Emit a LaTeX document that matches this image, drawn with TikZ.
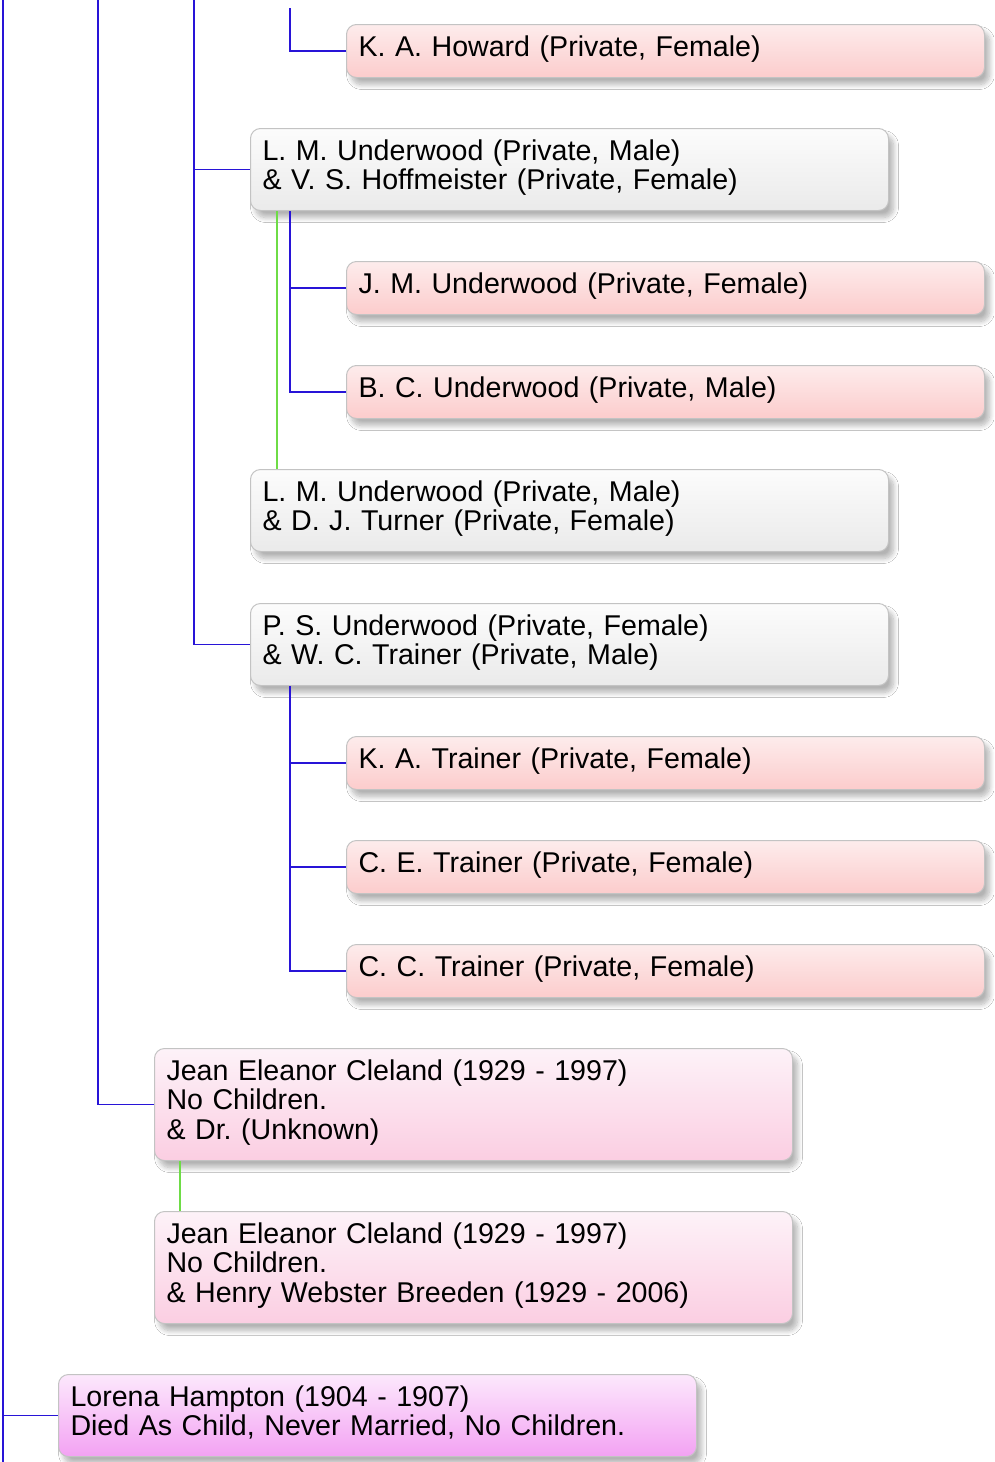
\documentclass[tikz,border=0pt]{standalone}
\usepackage{fontspec}
\setmainfont{Liberation Sans}
\usetikzlibrary{shadows.blur}
\definecolor{linkblue}{RGB}{40,20,215}
\definecolor{linkgreen}{RGB}{110,220,70}
\definecolor{boxborder}{RGB}{195,195,195}
\definecolor{pinktop}{RGB}{253,236,236}
\definecolor{pinkbot}{RGB}{252,204,204}
\definecolor{graytop}{RGB}{252,252,252}
\definecolor{graybot}{RGB}{234,234,234}
\definecolor{rosetop}{RGB}{253,242,248}
\definecolor{rosebot}{RGB}{251,206,226}
\definecolor{magtop}{RGB}{252,232,252}
\definecolor{magbot}{RGB}{243,162,243}
\tikzset{
  x=1pt, y=-1pt,
  person/.style={draw=boxborder, line width=1pt, rounded corners=10pt,
    anchor=north west, align=left, inner xsep=12pt, inner ysep=0pt,
    font=\fontsize{28.6}{29.5}\selectfont,
    blur shadow={shadow xshift=5pt, shadow yshift=-7pt, shadow blur radius=5pt,
      shadow blur steps=10, shadow opacity=30}},
  wide/.style={person, minimum width=638pt, text width=614pt},
  pinkbox/.style={wide, minimum height=53pt, text depth=10pt, top color=pinktop, bottom color=pinkbot},
  graybox/.style={wide, minimum height=82pt, text depth=39.5pt, top color=graytop, bottom color=graybot},
  rosebox/.style={wide, minimum height=112pt, text depth=69pt, top color=rosetop, bottom color=rosebot},
  magbox/.style={wide, minimum height=82pt, text depth=39.5pt, top color=magtop, bottom color=magbot},
  bl/.style={draw=linkblue, line width=1.2pt},
  gr/.style={draw=linkgreen, line width=1.2pt},
}
\begin{document}
\begin{tikzpicture}
\useasboundingbox[fill=white] (0,0) rectangle (994,1462);

% free ends
\coordinate (t3) at (3,0);
\coordinate (b3) at (3,1462);
\coordinate (t98) at (98,0);
\coordinate (t194) at (194,0);
\coordinate (t290) at (290,8);

% boxes
\node[pinkbox] (kah) at (346,24) {K. A. Howard (Private, Female)};
\node[graybox] (lmu1) at (250,128) {L. M. Underwood (Private, Male)\\\& V. S. Hoffmeister (Private, Female)};
\node[pinkbox] (jmu) at (346,261) {J. M. Underwood (Private, Female)};
\node[pinkbox] (bcu) at (346,365) {B. C. Underwood (Private, Male)};
\node[graybox] (lmu2) at (250,469) {L. M. Underwood (Private, Male)\\\& D. J. Turner (Private, Female)};
\node[graybox] (psu) at (250,603) {P. S. Underwood (Private, Female)\\\& W. C. Trainer (Private, Male)};
\node[pinkbox] (kat) at (346,736) {K. A. Trainer (Private, Female)};
\node[pinkbox] (cet) at (346,840) {C. E. Trainer (Private, Female)};
\node[pinkbox] (cct) at (346,944) {C. C. Trainer (Private, Female)};
\node[rosebox] (jec1) at (154,1048) {Jean Eleanor Cleland (1929 - 1997)\\No Children.\\\& Dr.\ (Unknown)};
\node[rosebox] (jec2) at (154,1211) {Jean Eleanor Cleland (1929 - 1997)\\No Children.\\\& Henry Webster Breeden (1929 - 2006)};
\node[magbox] (lh) at (58,1374) {Lorena Hampton (1904 - 1907)\\Died As Child, Never Married, No Children.};

% connectors
\draw[bl] (t3) -- (b3);
\draw[bl] (t3) |- (lh.west);
\draw[bl] (t98) |- (jec1.west);
\draw[bl] (t194) |- (lmu1.west);
\draw[bl] (t194) |- (psu.west);
\draw[bl] (t290) |- (kah.west);
\draw[bl] ([xshift=40pt]lmu1.south west) |- (jmu.west);
\draw[bl] ([xshift=40pt]lmu1.south west) |- (bcu.west);
\draw[gr] ([xshift=27pt]lmu1.south west) -- ([xshift=27pt]lmu2.north west);
\draw[bl] ([xshift=40pt]psu.south west) |- (kat.west);
\draw[bl] ([xshift=40pt]psu.south west) |- (cet.west);
\draw[bl] ([xshift=40pt]psu.south west) |- (cct.west);
\draw[gr] ([xshift=26pt]jec1.south west) -- ([xshift=26pt]jec2.north west);
\end{tikzpicture}
\end{document}
